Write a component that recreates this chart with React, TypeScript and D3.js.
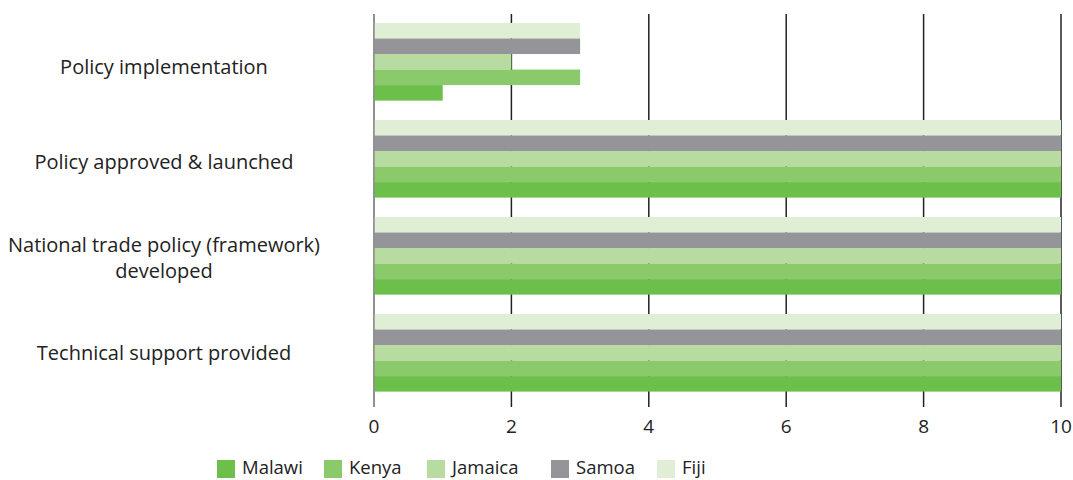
import React from "react";
import * as d3 from "d3";

// chart data
const categories = [
  ["Policy implementation"],
  ["Policy approved &  launched"],
  ["National trade policy (framework)", "developed"],
  ["Technical support provided"],
];
const series = ["Fiji", "Samoa", "Jamaica", "Kenya", "Malawi"];
const fiji = [3, 10, 10, 10];
const samoa = [3, 10, 10, 10];
const jamaica = [2, 10, 10, 10];
const kenya = [3, 10, 10, 10];
const malawi = [1, 10, 10, 10];
const ticks = [0, 2, 4, 6, 8, 10];
const legendOrder = ["Malawi", "Kenya", "Jamaica", "Samoa", "Fiji"];

const colors: Record<string, string> = {
  Malawi: "#6dbf4b",
  Kenya: "#8aca6b",
  Jamaica: "#b7dba0",
  Samoa: "#939598",
  Fiji: "#e0eed6",
};

const W = 1073;
const H = 480;
const font = "'Open Sans', Lato, sans-serif";

export default function App() {
  const values: Record<string, number[]> = {
    Fiji: fiji,
    Samoa: samoa,
    Jamaica: jamaica,
    Kenya: kenya,
    Malawi: malawi,
  };
  const x = d3.scaleLinear().domain([0, 10]).range([374, 1061]);
  const y0 = d3
    .scaleBand()
    .domain(categories.map((_, i) => String(i)))
    .range([13.3, 401.3])
    .paddingInner(0.2)
    .paddingOuter(0.1);
  const y1 = d3.scaleBand().domain(series).range([0, y0.bandwidth()]);

  const legendX = [217, 324, 427, 551, 657];

  return (
    <svg
      width={W}
      height={H}
      style={{ position: "absolute", left: 0, top: 0, background: "#fff" }}
    >
      {/* gridlines behind bars */}
      {ticks.map((t) => (
        <line
          key={t}
          x1={x(t)}
          x2={x(t)}
          y1={14}
          y2={407}
          stroke={t === 0 ? "#6d6d6d" : "#222"}
          strokeWidth={1.5}
        />
      ))}
      {categories.map((c, i) => (
        <g key={i} transform={`translate(0,${y0(String(i))})`}>
          {series.map((s) => (
            <rect
              key={s}
              x={x(0) + 0.75}
              y={y1(s)}
              width={x(values[s][i]) - x(0) - 0.75}
              height={y1.bandwidth()}
              fill={colors[s]}
            />
          ))}
        </g>
      ))}
      {categories.map((c, i) => {
        const cy = (y0(String(i)) as number) + y0.bandwidth() / 2;
        const lh = 26;
        const shift = c.length > 1 ? 2 : 5 - i * 1.5;
        const start = cy + shift - ((c.length - 1) * lh) / 2;
        return (
          <text
            key={i}
            x={164}
            textAnchor="middle"
            fontFamily={font}
            fontSize={20}
            fill="#222"
          >
            {c.map((line, j) => (
              <tspan key={j} x={164} y={start + j * lh} dy="0.35em">
                {line}
              </tspan>
            ))}
          </text>
        );
      })}
      {ticks.map((t) => (
        <text
          key={t}
          x={x(t)}
          y={426}
          dy="0.35em"
          textAnchor="middle"
          fontFamily={font}
          fontSize={19}
          fill="#222"
        >
          {t}
        </text>
      ))}
      {legendOrder.map((s, i) => (
        <g key={s} transform={`translate(${legendX[i]},460)`}>
          <rect width={18} height={18} fill={colors[s]} />
          <text
            x={25}
            y={8}
            dy="0.35em"
            fontFamily={font}
            fontSize={18.5}
            fill="#222"
          >
            {s}
          </text>
        </g>
      ))}
    </svg>
  );
}
